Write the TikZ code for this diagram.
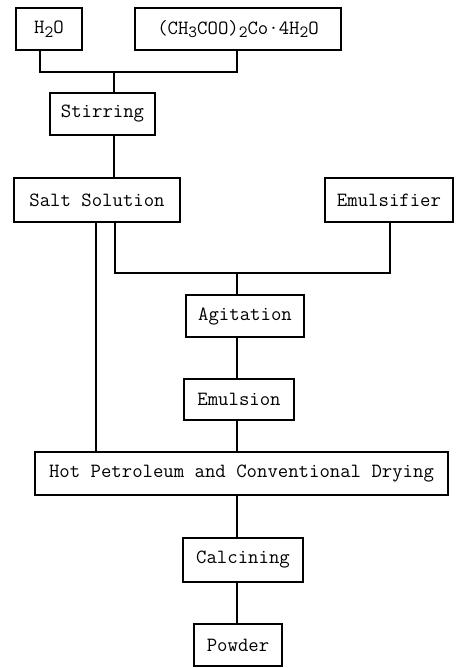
\documentclass[tikz,border=0pt]{standalone}
\usepackage{fontspec}
\newcommand{\sbs}[1]{\raisebox{-0.4ex}{\fontsize{17}{19}\selectfont #1}}
\begin{document}
\begin{tikzpicture}[x=1pt,y=-1pt,
  box/.style={draw, line width=1.3pt, inner sep=0pt, font=\ttfamily\fontsize{20.2}{23}\selectfont},
  conn/.style={line width=1.1pt}]
\useasboundingbox (0,0) rectangle (455,668);
\node[box, minimum width=66pt, minimum height=42pt] (h2o) at (49,29) {H\sbs{2}O};
\node[box, minimum width=206pt, minimum height=42pt] (acet) at (238,29) {(CH\sbs{3}COO)\sbs{2}Co\textperiodcentered 4H\sbs{2}O};
\node[box, minimum width=105pt, minimum height=42pt] (stir) at (102.5,114) {Stirring};
\node[box, minimum width=166pt, minimum height=44pt] (salt) at (97,200) {Salt Solution};
\node[box, minimum width=128pt, minimum height=44pt] (emul) at (389,200) {Emulsifier};
\node[box, minimum width=118pt, minimum height=42pt] (agit) at (245,316) {Agitation};
\node[box, minimum width=110pt, minimum height=41pt] (emus) at (239,399.5) {Emulsion};
\node[box, minimum width=413pt, minimum height=43pt] (hot) at (241.5,473.5) {Hot Petroleum and Conventional Drying};
\node[box, minimum width=120pt, minimum height=44pt] (calc) at (243,560) {Calcining};
\node[box, minimum width=88pt, minimum height=42pt] (powd) at (238,645) {Powder};
\coordinate (jA) at (114,72);
\coordinate (jB) at (237,273);
\coordinate (sL) at (96,0);
\coordinate (sR) at (115,0);
% top merge
\draw[conn] ([xshift=-9pt]h2o.south) |- (jA) -| ([xshift=-1pt]acet.south);
\draw[conn] (jA) -- (jA |- stir.north);
\draw[conn] (stir.south -| jA) -- (jA |- salt.north);
% salt solution direct to drying
\draw[conn] (salt.south -| sL) -- (hot.north -| sL);
% salt + emulsifier to agitation
\draw[conn] (salt.south -| sR) |- (jB) -| ([xshift=1pt]emul.south);
\draw[conn] (jB) -- (jB |- agit.north);
\draw[conn] (agit.south -| jB) -- (jB |- emus.north);
\draw[conn] (emus.south -| jB) -- (jB |- hot.north);
\draw[conn] (hot.south -| jB) -- (jB |- calc.north);
\draw[conn] (calc.south -| jB) -- (jB |- powd.north);
\end{tikzpicture}
\end{document}
